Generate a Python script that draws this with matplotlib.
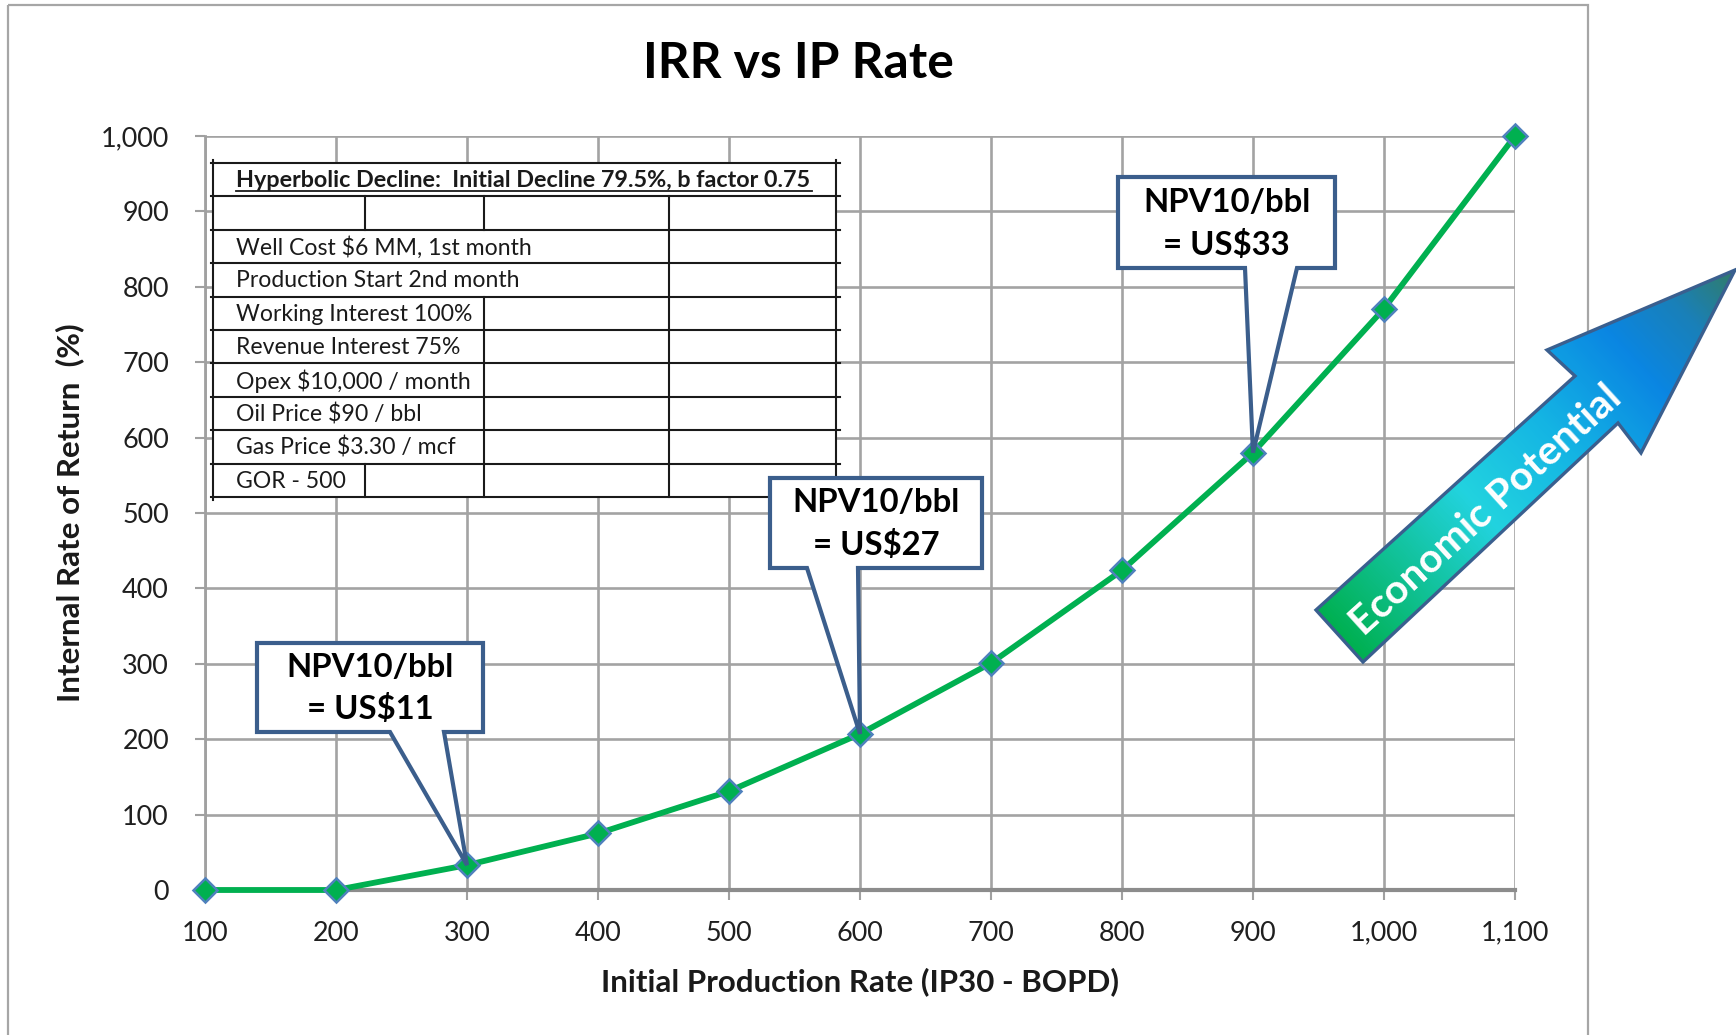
import matplotlib
matplotlib.use('Agg')
import matplotlib.pyplot as plt
import numpy as np
from matplotlib.patches import Polygon, Rectangle
from matplotlib.lines import Line2D
from matplotlib.font_manager import FontProperties
from matplotlib.colors import LinearSegmentedColormap

W, H, DPI = 1736, 1035, 100
FONT = ['Lato', 'DejaVu Sans']
plt.rcParams['font.family'] = FONT

# ---------------- data ----------------
ip_rate = [100, 200, 300, 400, 500, 600, 700, 800, 900, 1000, 1100]
irr = [0, 0, 33, 75, 131, 207, 301, 424, 580, 771, 1000]
x_ticks = [100, 200, 300, 400, 500, 600, 700, 800, 900, 1000, 1100]
x_tick_labels = ['100', '200', '300', '400', '500', '600', '700', '800', '900', '1,000', '1,100']
y_ticks = [0, 100, 200, 300, 400, 500, 600, 700, 800, 900, 1000]
y_tick_labels = ['0', '100', '200', '300', '400', '500', '600', '700', '800', '900', '1,000']
title = 'IRR vs IP Rate'
x_label = 'Initial Production Rate (IP30 - BOPD)'
y_label = 'Internal Rate of Return  (%)'
table_header = 'Hyperbolic Decline:  Initial Decline 79.5%, b factor 0.75'
table_rows = ['', 'Well Cost $6 MM, 1st month', 'Production Start 2nd month',
              'Working Interest 100%', 'Revenue Interest 75%', 'Opex $10,000 / month',
              'Oil Price $90 / bbl', 'Gas Price $3.30 / mcf', 'GOR - 500']
callout_x = [300, 600, 900]
callout_line1 = ['NPV10/bbl', 'NPV10/bbl', 'NPV10/bbl']
callout_line2 = ['= US$11', '= US$27', '= US$33']
arrow_label = 'Economic Potential'

# ---------------- figure ----------------
fig = plt.figure(figsize=(W / DPI, H / DPI), dpi=DPI)
renderer = fig.canvas.get_renderer()


def fit_size(s, target_px, weight='normal', base=20.0):
    fp = FontProperties(family=FONT, weight=weight, size=base)
    w, h, d = renderer.get_text_width_height_descent(s, fp, ismath=False)
    return base * target_px / w


ax = fig.add_axes([205 / W, 1 - 890 / H, (1515 - 205) / W, (890 - 136) / H])
ax.plot(ip_rate, irr, color='#00B050', lw=4.2, marker='D', ms=12,
        mfc='#00B050', mec='#4F81BD', mew=1.8, clip_on=False, zorder=5)
ax.set_xlim(100, 1100)
ax.set_ylim(0, 1000)
ax.set_xticks(x_ticks, x_tick_labels)
ax.set_yticks(y_ticks, y_tick_labels)
ax.grid(True, color='#A3A3A3', lw=1.9)
ax.set_axisbelow(True)
for s in ['top', 'right']:
    ax.spines[s].set_visible(False)
ax.spines['left'].set_color('#A0A0A0')
ax.spines['left'].set_linewidth(2)
ax.spines['bottom'].set_color('#8C8C8C')
ax.spines['bottom'].set_linewidth(3)
tsz = fit_size('1,100', 69)
ax.tick_params(axis='both', direction='out', length=7, width=1.5, color='#A0A0A0',
               labelsize=tsz, labelcolor='#1f1f1f')
ax.tick_params(axis='y', pad=19)
ax.tick_params(axis='x', pad=15)

fig.text(798 / W, 1 - 64 / H, title, ha='center', va='center', weight='bold',
         size=fit_size(title, 311, 'bold'), color='black')
fig.text(860 / W, 1 - 982 / H, x_label, ha='center', va='center', weight='bold',
         size=fit_size(x_label, 518, 'bold'), color='#1a1a1a')
fig.text(70 / W, 1 - 513 / H, y_label, ha='center', va='center', weight='bold',
         rotation=90, size=fit_size(y_label, 379, 'bold'), color='#1a1a1a')

# ---------------- overlay in pixel coords ----------------
ov = fig.add_axes([0, 0, 1, 1])
ov.set_xlim(0, W)
ov.set_ylim(H, 0)
ov.axis('off')

# table
t_left, t_right, t_top, rh = 213, 836, 163, 33.4
col_x = [213, 365, 484, 669, 836]
n_rows = 1 + len(table_rows)
t_bot = t_top + rh * n_rows
ov.add_patch(Rectangle((t_left, t_top), t_right - t_left, t_bot - t_top,
                       fc='white', ec='none', zorder=2))
for i in range(n_rows + 1):
    y = t_top + i * rh
    ov.add_line(Line2D([t_left - 2, t_right + 4], [y, y], color='#1a1a1a', lw=1.5, zorder=3))
for xv in (t_left, t_right):
    ov.add_line(Line2D([xv, xv], [t_top - 3, t_bot + 3], color='#1a1a1a', lw=1.5, zorder=3))
row_seps = {1: [365, 484, 669], 2: [669], 3: [669], 4: [484, 669], 5: [484, 669],
            6: [484, 669], 7: [484, 669], 8: [484, 669], 9: [365, 484, 669]}
for r, xs in row_seps.items():
    for xv in xs:
        ov.add_line(Line2D([xv, xv], [t_top + r * rh, t_top + (r + 1) * rh],
                           color='#1a1a1a', lw=1.5, zorder=3))
tab_sz = fit_size('Well Cost $6 MM, 1st month', 296)
hdr_sz = fit_size(table_header, 576, 'bold')
ov.text(236, t_top + rh / 2 + 1, table_header, ha='left', va='center', weight='bold',
        size=hdr_sz, color='#1a1a1a', zorder=4)
ov.add_line(Line2D([236, 236 + 576], [t_top + rh / 2 + 11, t_top + rh / 2 + 11],
                   color='#1a1a1a', lw=1.3, zorder=4))
for i, s in enumerate(table_rows):
    if s:
        ov.text(236, t_top + (i + 1.5) * rh + 1, s, ha='left', va='center',
                size=tab_sz, color='#1a1a1a', zorder=4)

# callouts
boxes = [(257, 643, 483, 732, 390, 444),
         (770, 478, 982, 568, 807, 858),
         (1118, 177, 1335, 268, 1245, 1297)]
c_sz = fit_size('NPV10/bbl', 168, 'bold')
for (L, T, R, B, pl, pr), xv, l1, l2 in zip(boxes, callout_x, callout_line1, callout_line2):
    yv = irr[ip_rate.index(xv)]
    disp = ax.transData.transform((xv, yv))
    tx, ty = ov.transData.inverted().transform(disp)
    poly = Polygon([(L, T), (R, T), (R, B), (pr, B), (tx, ty), (pl, B), (L, B)],
                   closed=True, fc='white', ec='#3B5E8C', lw=3, joinstyle='miter', zorder=6)
    ov.add_patch(poly)
    cy = (T + B) / 2
    ov.text((L + R) / 2, cy - 20, l1, ha='center', va='center', weight='bold',
            size=c_sz, color='black', zorder=7)
    ov.text((L + R) / 2, cy + 22, l2, ha='center', va='center', weight='bold',
            size=c_sz, color='black', zorder=7)

# gradient arrow
arrow_pts = [(1316, 610), (1575, 376), (1547, 350), (1735, 270), (1641, 453),
             (1618, 423), (1363, 662)]
arrow = Polygon(arrow_pts, closed=True, fc='none', ec='#3A5F8F', lw=2.4, zorder=9)
ov.add_patch(arrow)
x0, x1, y0, y1 = 1305, 1736, 262, 668
gx, gy = np.meshgrid(np.arange(x0, x1) + 0.5, np.arange(y0, y1) + 0.5)
tail = np.array([1339.5, 636.0])
tip = np.array([1735.0, 270.0])
u = tip - tail
Lu = np.hypot(*u)
u = u / Lu
t = ((gx - tail[0]) * u[0] + (gy - tail[1]) * u[1]) / Lu
t = np.clip(t, 0, 1)
cmap = LinearSegmentedColormap.from_list('econ', [(0.0, '#00B050'), (0.35, '#22D3DF'),
                                                  (0.55, '#14B4E4'), (0.75, '#0A86E2'),
                                                  (0.88, '#1A80B8'), (1.0, '#327C68')])
im = ov.imshow(cmap(t), extent=(x0, x1, y1, y0), origin='upper', aspect='auto',
               interpolation='bilinear', zorder=8)
im.set_clip_path(arrow)
ov.set_xlim(0, W)
ov.set_ylim(H, 0)
ov.text(1486, 510, arrow_label, rotation=42.3, rotation_mode='anchor', ha='center',
        va='center', color='white', weight='bold',
        size=fit_size(arrow_label, 350, 'bold'), zorder=10)

# outer chart border
ov.add_patch(Rectangle((8, 5), 1580, 1040, fill=False, ec='#A6A6A6', lw=1.6, zorder=1))

fig.savefig('out.png', dpi=DPI, facecolor='white')
